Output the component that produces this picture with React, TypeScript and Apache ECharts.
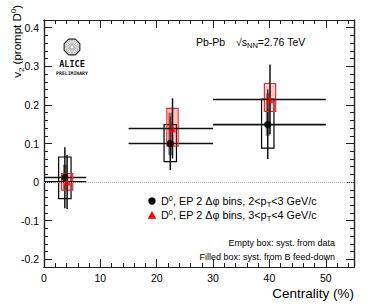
import React, { useEffect, useRef } from "react";
import * as echarts from "echarts";

// Centrality classes (%)
const centralityLow = [0, 15, 30];
const centralityHigh = [7.5, 30, 50];

// D0 2<pT<3 GeV/c (black)
const blackX = [3.7, 22.4, 39.7];
const blackV2 = [0.012, 0.1, 0.149];
const blackStatLow = [-0.068, 0.031, 0.06];
const blackStatHigh = [0.09, 0.17, 0.24];
const blackSystLow = [-0.043, 0.053, 0.088];
const blackSystHigh = [0.065, 0.149, 0.215];
const blackFeedLow = [-0.02, 0.07, 0.12];
const blackFeedHigh = [0.045, 0.18, 0.23];

// D0 3<pT<4 GeV/c (red)
const redX = [4.1, 22.8, 40.1];
const redV2 = [0.001, 0.139, 0.214];
const redStatLow = [-0.07, 0.061, 0.124];
const redStatHigh = [0.07, 0.217, 0.305];
const redSystLow = [-0.021, 0.093, 0.183];
const redSystHigh = [0.022, 0.191, 0.255];
const redFeedLow = [-0.02, 0.1, 0.19];
const redFeedHigh = [0.02, 0.19, 0.25];

// Axis ticks
const xMajorTicks = [0, 10, 20, 30, 40, 50];
const xMinorTicks = [2, 4, 6, 8, 12, 14, 16, 18, 22, 24, 26, 28, 32, 34, 36, 38, 42, 44, 46, 48, 52, 54];
const yMajorTicks = [-0.2, -0.1, 0, 0.1, 0.2, 0.3, 0.4];
const yMinorTicks = [
  -0.22, -0.18, -0.16, -0.14, -0.12, -0.08, -0.06, -0.04, -0.02, 0.02, 0.04, 0.06, 0.08,
  0.12, 0.14, 0.16, 0.18, 0.22, 0.24, 0.26, 0.28, 0.32, 0.34, 0.36, 0.38, 0.42,
];

const FONT = "Liberation Sans, Arial, Helvetica, sans-serif";

function buildRows(
  xs: number[], v: number[], sl: number[], sh: number[], syl: number[], syh: number[], fl: number[], fh: number[]
) {
  return xs.map((x, i) => [x, v[i], sl[i], sh[i], syl[i], syh[i], fl[i], fh[i], centralityLow[i], centralityHigh[i]]);
}

function makeRenderer(boxColor: string, feedFill: string, boxHalf: number, feedHalf: number) {
  return (params: any, api: any) => {
    const x = api.value(0);
    const y = api.value(1);
    const sl = api.value(2);
    const sh = api.value(3);
    const syl = api.value(4);
    const syh = api.value(5);
    const fl = api.value(6);
    const fh = api.value(7);
    const xl = api.value(8);
    const xh = api.value(9);
    const pFeedA = api.coord([x - feedHalf, fh]);
    const pFeedB = api.coord([x + feedHalf, fl]);
    const pSystA = api.coord([x - boxHalf, syh]);
    const pSystB = api.coord([x + boxHalf, syl]);
    const pStatA = api.coord([x, sh]);
    const pStatB = api.coord([x, sl]);
    const pXA = api.coord([xl, y]);
    const pXB = api.coord([xh, y]);
    return {
      type: "group",
      children: [
        {
          type: "rect",
          shape: { x: pFeedA[0], y: pFeedA[1], width: pFeedB[0] - pFeedA[0], height: pFeedB[1] - pFeedA[1] },
          style: { fill: feedFill, stroke: "none" },
        },
        {
          type: "rect",
          shape: { x: pSystA[0], y: pSystA[1], width: pSystB[0] - pSystA[0], height: pSystB[1] - pSystA[1] },
          style: { fill: "none", stroke: boxColor, lineWidth: 1.2 },
        },
        {
          type: "line",
          shape: { x1: pStatA[0], y1: pStatA[1], x2: pStatB[0], y2: pStatB[1] },
          style: { stroke: "#111", lineWidth: 1.5 },
        },
        {
          type: "line",
          shape: { x1: pXA[0], y1: pXA[1], x2: pXB[0], y2: pXB[1] },
          style: { stroke: "#111", lineWidth: 1.6 },
        },
      ],
    };
  };
}

export default function App() {
  const ref = useRef<HTMLDivElement>(null);
  useEffect(() => {
    if (!ref.current) return;
    const chart = echarts.init(ref.current, null, { renderer: "svg" });
    const blackRows = buildRows(blackX, blackV2, blackStatLow, blackStatHigh, blackSystLow, blackSystHigh, blackFeedLow, blackFeedHigh);
    const redRows = buildRows(redX, redV2, redStatLow, redStatHigh, redSystLow, redSystHigh, redFeedLow, redFeedHigh);

    const axisLine = { show: true, onZero: false, lineStyle: { color: "#222", width: 1.2 } };
    const xAxisBase = { type: "value", min: 0, max: 55, splitLine: { show: false }, axisLine };
    const yAxisBase = { type: "value", min: -0.22, max: 0.42, splitLine: { show: false }, axisLine };

    const octagon: number[][] = [];
    for (let k = 0; k < 8; k++) {
      const a = (Math.PI / 8) + (k * Math.PI) / 4;
      octagon.push([Math.cos(a) * 8.5, Math.sin(a) * 8.5]);
    }
    const spokes: any[] = [];
    for (let k = 0; k < 16; k++) {
      const a = (k * Math.PI) / 8;
      spokes.push({
        type: "line",
        shape: { x1: Math.cos(a) * 1.5, y1: Math.sin(a) * 1.5, x2: Math.cos(a) * 6.5, y2: Math.sin(a) * 6.5 },
        style: { stroke: "#777", lineWidth: 0.6 },
      });
    }

    const legRich = {
      n: { fontSize: 10.8, fontFamily: FONT, color: "#000" },
      sup: { fontSize: 7.5, fontFamily: FONT, color: "#000", padding: [0, 0, 6, 0] },
      sub: { fontSize: 7.5, fontFamily: FONT, color: "#000", padding: [7, 0, 0, 0] },
    };
    const energyRich = {
      n: { fontSize: 10.5, fontFamily: FONT, color: "#000" },
      sub: { fontSize: 7.5, fontFamily: FONT, color: "#000", padding: [7, 0, 0, 0] },
    };

    chart.setOption({
      animation: false,
      grid: { left: 44, right: 16, top: 20, bottom: 39 },
      xAxis: [
        {
          ...xAxisBase,
          position: "bottom",
          axisTick: { show: true, inside: true, length: 8, customValues: xMajorTicks, lineStyle: { color: "#222" } },
          axisLabel: { show: true, customValues: xMajorTicks, fontSize: 10.5, color: "#000", fontFamily: FONT, margin: 5 },
        },
        {
          ...xAxisBase,
          position: "bottom",
          axisTick: { show: true, inside: true, length: 4, customValues: xMinorTicks, lineStyle: { color: "#222" } },
          axisLabel: { show: false },
        },
        {
          ...xAxisBase,
          position: "top",
          axisTick: { show: true, inside: true, length: 8, customValues: xMajorTicks, lineStyle: { color: "#222" } },
          axisLabel: { show: false },
        },
        {
          ...xAxisBase,
          position: "top",
          axisTick: { show: true, inside: true, length: 4, customValues: xMinorTicks, lineStyle: { color: "#222" } },
          axisLabel: { show: false },
        },
      ],
      yAxis: [
        {
          ...yAxisBase,
          position: "left",
          axisTick: { show: true, inside: true, length: 8, customValues: yMajorTicks, lineStyle: { color: "#222" } },
          axisLabel: {
            show: true,
            customValues: yMajorTicks,
            fontSize: 10.5,
            color: "#000",
            fontFamily: FONT,
            margin: 5,
            formatter: (v: number) => String(Math.round(v * 10) / 10),
          },
        },
        {
          ...yAxisBase,
          position: "left",
          axisTick: { show: true, inside: true, length: 4, customValues: yMinorTicks, lineStyle: { color: "#222" } },
          axisLabel: { show: false },
        },
        {
          ...yAxisBase,
          position: "right",
          axisTick: { show: true, inside: true, length: 8, customValues: yMajorTicks, lineStyle: { color: "#222" } },
          axisLabel: { show: false },
        },
        {
          ...yAxisBase,
          position: "right",
          axisTick: { show: true, inside: true, length: 4, customValues: yMinorTicks, lineStyle: { color: "#222" } },
          axisLabel: { show: false },
        },
      ],
      series: [
        {
          type: "line",
          data: [],
          markLine: {
            silent: true,
            symbol: "none",
            label: { show: false },
            lineStyle: { color: "#bbb", type: "dotted", width: 1 },
            data: [{ yAxis: 0 }],
          },
        },
        {
          type: "custom",
          renderItem: makeRenderer("#000", "rgba(90,90,90,0.75)", 1.1, 0.35),
          data: blackRows,
          encode: { x: 0, y: 1 },
          clip: false,
        },
        {
          type: "custom",
          renderItem: makeRenderer("#ff2020", "rgba(255,80,80,0.35)", 1.0, 0.8),
          data: redRows,
          encode: { x: 0, y: 1 },
          clip: false,
        },
        {
          type: "scatter",
          data: blackX.map((x, i) => [x, blackV2[i]]),
          symbol: "circle",
          symbolSize: 7.5,
          itemStyle: { color: "#000" },
          z: 5,
        },
        {
          type: "scatter",
          data: redX.map((x, i) => [x, redV2[i]]),
          symbol: "triangle",
          symbolSize: 7.5,
          itemStyle: { color: "#ff0000" },
          z: 5,
        },
      ],
      graphic: [
        {
          type: "text",
          x: 17,
          y: 5,
          rotation: Math.PI / 2,
          style: {
            text: "{n|v}{sub|2}{n| (prompt D}{sup|0}{n|)}",
            align: "right",
            verticalAlign: "middle",
            rich: {
              n: { fontSize: 11.5, fontFamily: FONT, color: "#000" },
              sub: { fontSize: 8, fontFamily: FONT, color: "#000", padding: [8, 0, 0, 0] },
              sup: { fontSize: 8, fontFamily: FONT, color: "#000", padding: [0, 0, 7, 0] },
            },
          },
        },
        {
          type: "text",
          x: 354,
          y: 293,
          style: {
            text: "Centrality (%)",
            align: "right",
            verticalAlign: "middle",
            fontSize: 13.5,
            fontFamily: FONT,
            fill: "#000",
          },
        },
        {
          type: "text",
          x: 196,
          y: 42,
          style: { text: "Pb-Pb", fontSize: 10.5, fontFamily: FONT, fill: "#000", verticalAlign: "middle" },
        },
        {
          type: "text",
          x: 236,
          y: 42,
          style: {
            text: "{n|\u221A}{n|s}{sub|NN}{n|=2.76 TeV}",
            verticalAlign: "middle",
            rich: energyRich,
          },
        },
        {
          type: "group",
          x: 72,
          y: 47,
          children: [
            { type: "polygon", shape: { points: octagon }, style: { fill: "none", stroke: "#222", lineWidth: 1.1 } },
            { type: "circle", shape: { cx: 0, cy: 0, r: 6.5 }, style: { fill: "none", stroke: "#999", lineWidth: 0.6 } },
            ...spokes,
          ],
        },
        {
          type: "text",
          x: 72,
          y: 64,
          style: { text: "ALICE", align: "center", verticalAlign: "middle", fontSize: 8.5, fontWeight: "bold", fontFamily: "DejaVu Sans Mono, monospace", fill: "#111" },
        },
        {
          type: "text",
          x: 72,
          y: 73,
          style: { text: "PRELIMINARY", align: "center", verticalAlign: "middle", fontSize: 4.8, fontWeight: "bold", fontFamily: "DejaVu Sans Mono, monospace", fill: "#111" },
        },
        {
          type: "circle",
          shape: { cx: 152, cy: 201, r: 3.7 },
          style: { fill: "#000" },
        },
        {
          type: "polygon",
          shape: { points: [[152, 211], [156.3, 218.8], [147.7, 218.8]] },
          style: { fill: "#ff0000" },
        },
        {
          type: "text",
          x: 161,
          y: 201,
          style: {
            text: "{n|D}{sup|0}{n|, EP 2 \u0394\u03C6 bins, 2<p}{sub|T}{n|<3 GeV/c}",
            verticalAlign: "middle",
            rich: legRich,
          },
        },
        {
          type: "text",
          x: 161,
          y: 215,
          style: {
            text: "{n|D}{sup|0}{n|, EP 2 \u0394\u03C6 bins, 3<p}{sub|T}{n|<4 GeV/c}",
            verticalAlign: "middle",
            rich: legRich,
          },
        },
        {
          type: "text",
          x: 335,
          y: 243,
          style: { text: "Empty box: syst. from data", align: "right", verticalAlign: "middle", fontSize: 9, fontFamily: FONT, fill: "#000" },
        },
        {
          type: "text",
          x: 335,
          y: 257,
          style: { text: "Filled box: syst. from B feed-down", align: "right", verticalAlign: "middle", fontSize: 9, fontFamily: FONT, fill: "#000" },
        },
      ],
    });
    return () => chart.dispose();
  }, []);
  return <div ref={ref} style={{ position: "fixed", left: 0, top: 0, width: 370, height: 306, background: "#fff" }} />;
}
